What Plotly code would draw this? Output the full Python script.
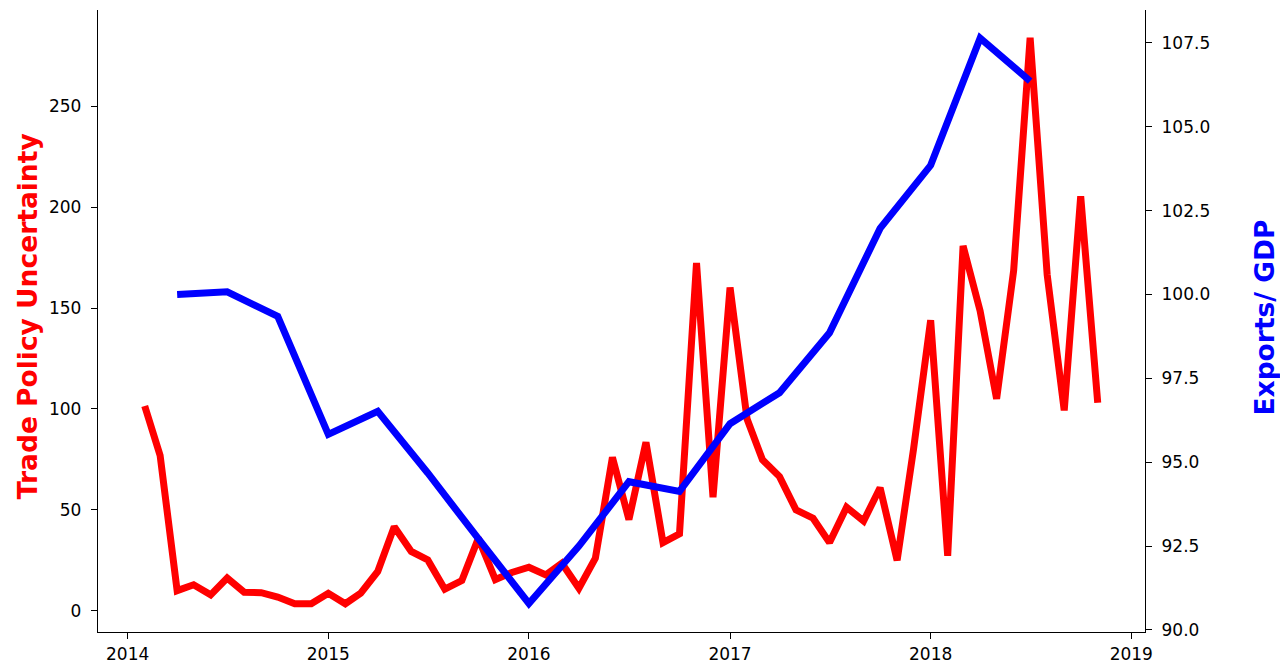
import plotly.graph_objects as go
import pandas as pd

# Monthly Trade Policy Uncertainty index, Feb 2014 - Nov 2018
tpu_dates = pd.date_range("2014-02-01", "2018-11-01", freq="MS")
tpu_values = [
    101.5, 77.0, 10.0, 12.9, 7.9, 16.2, 9.2, 9.0, 6.8, 3.5, 3.5,      # 2014 Feb-Dec
    8.7, 3.5, 8.7, 19.5, 41.7, 29.4, 25.2, 10.7, 15.0, 36.0, 15.5, 19.0,  # 2015
    21.6, 17.8, 23.6, 11.2, 26.1, 76.0, 45.2, 83.5, 33.8, 38.1, 172.4, 56.3,  # 2016
    160.2, 95.0, 74.8, 66.5, 50.0, 45.9, 33.8, 51.3, 44.5, 61.0, 25.0, 80.4,  # 2017
    144.0, 27.3, 180.8, 148.6, 105.0, 168.5, 284.0, 166.6, 99.3, 205.4, 103.1,  # 2018 Jan-Nov
]

# Quarterly Exports / GDP, Apr 2014 - Jul 2018
exp_dates = pd.date_range("2014-04-01", "2018-07-01", freq="QS-JAN")
exp_values = [
    100.0, 100.08, 99.35,
    95.83, 96.52, 94.68, 92.72,
    90.79, 92.5, 94.42, 94.13,
    96.15, 97.07, 98.86, 101.97,
    103.85, 107.64, 106.36,
]

year_ticks = [f"{y}-01-01" for y in range(2014, 2020)]
year_labels = [str(y) for y in range(2014, 2020)]
left_ticks = [0, 50, 100, 150, 200, 250]
right_ticks = [90.0, 92.5, 95.0, 97.5, 100.0, 102.5, 105.0, 107.5]

FONT = "DejaVu Sans"

fig = go.Figure()
fig.add_trace(go.Scatter(
    x=tpu_dates, y=tpu_values, mode="lines", name="Trade Policy Uncertainty",
    line=dict(color="#ff0000", width=7), yaxis="y",
))
fig.add_trace(go.Scatter(
    x=exp_dates, y=exp_values, mode="lines", name="Exports/ GDP",
    line=dict(color="#0000ff", width=7), yaxis="y2",
))

axis_common = dict(
    showgrid=False, zeroline=False, showline=True, linecolor="black", linewidth=1.3,
    ticks="outside", ticklen=6, tickwidth=1.3, tickcolor="black", automargin=False,
    tickfont=dict(family=FONT, size=17, color="black"),
)

fig.update_layout(
    template="none",
    width=1280, height=657,
    margin=dict(l=90, r=143, t=2, b=33, pad=0),
    paper_bgcolor="white", plot_bgcolor="white",
    showlegend=False,
    font=dict(family=FONT, size=17, color="black"),
    xaxis=dict(
        type="date", range=["2013-11-08", "2019-01-26"],
        tickmode="array", tickvals=year_ticks, ticktext=year_labels,
        ticklabelstandoff=0,
        **axis_common,
    ),
    yaxis=dict(
        range=[-10.5, 297.7], tickmode="array", tickvals=left_ticks,
        ticklabelstandoff=6,
        **axis_common,
    ),
    yaxis2=dict(
        range=[89.94, 108.48], overlaying="y", side="right", anchor="x",
        tickmode="array", tickvals=right_ticks,
        ticktext=[f"{v:.1f}" for v in right_ticks],
        ticklabelstandoff=6,
        **axis_common,
    ),
    annotations=[
        dict(text="Trade Policy Uncertainty", textangle=-90,
             xref="paper", yref="paper", x=-0.0673, y=0.507,
             xanchor="center", yanchor="middle", showarrow=False,
             font=dict(family=FONT, size=26.5, color="#ff0000", weight="bold")),
        dict(text="Exports/ GDP", textangle=-90,
             xref="paper", yref="paper", x=1.1137, y=0.5056,
             xanchor="center", yanchor="middle", showarrow=False,
             font=dict(family=FONT, size=26.5, color="#0000ff", weight="bold")),
    ],
)

fig.write_html("out.html")
